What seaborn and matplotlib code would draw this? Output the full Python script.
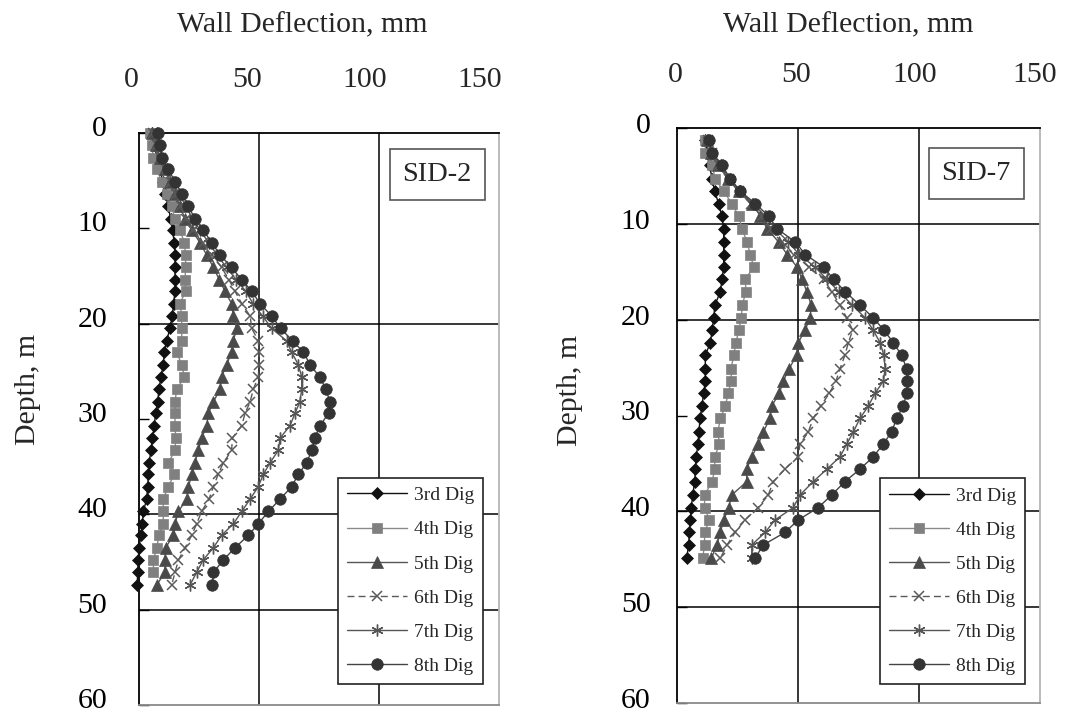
import numpy as np
import pandas as pd
import matplotlib
matplotlib.use("Agg")
import matplotlib.pyplot as plt
import matplotlib.transforms as mtransforms
import seaborn as sns

# ---------------- data ----------------
series_names = ["3rd Dig", "4th Dig", "5th Dig", "6th Dig", "7th Dig", "8th Dig"]
x_ticks = [0, 50, 100, 150]
y_ticks = [0, 10, 20, 30, 40, 50, 60]

depth_sid2 = [0.0, 1.3, 2.6, 3.8, 5.1, 6.4, 7.7, 9.0, 10.2, 11.5, 12.8, 14.1, 15.4, 16.6,
              17.9, 19.2, 20.5, 21.8, 23.0, 24.3, 25.6, 26.9, 28.2, 29.4, 30.7, 32.0, 33.3,
              34.6, 35.8, 37.1, 38.4, 39.7, 41.0, 42.2, 43.5, 44.8, 46.1, 47.4]
sid2_dig3 = [5.3, 6.4, 7.5, 8.7, 9.9, 11.0, 12.2, 13.2, 14.0, 14.7,
             15.0, 15.0, 15.0, 15.0, 14.4, 13.9, 12.9, 11.5, 10.6, 10.1,
             9.2, 8.3, 7.8, 6.9, 6.4, 5.6, 5.0, 4.2, 3.9, 3.6,
             3.2, 1.8, 1.4, 0.8, 0.0, -0.3, -0.5, -0.8]
sid2_dig4 = [4.6, 5.3, 6.0, 7.4, 9.4, 11.5, 13.6, 15.0, 17.1, 18.9,
             19.4, 19.4, 19.2, 19.4, 17.1, 17.8, 17.8, 17.8, 15.7, 17.8,
             18.9, 15.7, 15.0, 15.0, 15.0, 15.3, 15.0, 12.2, 14.7, 12.2,
             10.1, 10.1, 10.1, 8.3, 7.4, 6.0, 6.0, np.nan]
sid2_dig5 = [5.5, 7.0, 8.8, 10.8, 12.8, 15.0, 17.0, 19.2, 22.0, 25.4,
             28.2, 31.0, 33.5, 35.8, 38.6, 39.3, 40.7, 39.3, 38.6, 36.5,
             34.4, 33.7, 31.0, 28.9, 28.2, 26.1, 24.7, 23.3, 22.0, 20.6,
             19.9, 16.4, 15.0, 14.3, 11.1, 10.8, 10.8, 7.4]
sid2_dig6 = [6.0, 7.5, 9.3, 11.2, 13.2, 15.3, 17.4, 19.7, 22.3, 26.5,
             30.5, 34.4, 37.5, 40.0, 42.8, 46.3, 47.0, 49.7, 50.0, 50.0,
             49.7, 47.6, 46.3, 44.2, 42.8, 38.9, 38.6, 35.1, 33.0, 31.0,
             29.2, 26.1, 24.0, 22.0, 19.2, 16.4, 15.0, 13.6]
sid2_dig7 = [7.5, 8.3, 9.3, 11.5, 14.0, 16.8, 19.5, 22.3, 25.5, 29.0,
             32.5, 36.5, 40.5, 44.5, 47.5, 51.5, 55.3, 61.5, 63.6, 66.4,
             67.8, 67.8, 67.0, 65.0, 62.9, 58.8, 58.0, 54.6, 51.8, 49.7,
             46.3, 42.8, 39.3, 34.4, 31.0, 26.7, 24.0, 21.3]
sid2_dig8 = [8.0, 8.8, 9.6, 12.2, 15.0, 17.8, 20.6, 23.3, 26.8, 30.3,
             33.8, 38.6, 42.8, 47.0, 50.4, 55.3, 59.0, 64.0, 68.5, 71.3,
             75.3, 78.0, 79.5, 79.0, 75.4, 73.3, 71.9, 69.9, 66.4, 63.6,
             58.8, 53.9, 49.7, 45.6, 40.0, 35.1, 31.0, 30.6]

depth_sid7 = [1.3, 2.6, 3.9, 5.3, 6.6, 7.9, 9.2, 10.5, 11.9, 13.2,
              14.5, 15.8, 17.1, 18.5, 19.8, 21.1, 22.4, 23.7, 25.1, 26.4,
              27.7, 29.0, 30.3, 31.7, 33.0, 34.3, 35.6, 36.9, 38.3, 39.6,
              40.9, 42.2, 43.5, 44.9]
sid7_dig3 = [11.7, 12.5, 13.5, 14.5, 15.6, 17.2, 18.6, 19.3, 19.3, 19.3,
             19.3, 18.6, 17.9, 15.6, 15.2, 14.5, 13.8, 11.7, 11.7, 11.7,
             11.0, 10.3, 9.6, 9.0, 8.7, 7.9, 7.6, 7.3, 6.5, 5.9,
             5.5, 5.1, 4.8, 4.0]
sid7_dig4 = [11.7, 11.7, 14.5, 15.8, 19.3, 22.7, 25.5, 26.9, 28.9, 30.3,
             31.7, 28.2, 28.5, 26.9, 26.6, 25.5, 24.4, 23.4, 22.4, 22.4,
             21.1, 20.0, 17.9, 16.9, 17.5, 15.6, 15.6, 14.5, 11.4, 11.4,
             13.4, 11.4, 11.4, 10.6]
sid7_dig5 = [12.5, 14.0, 17.0, 21.0, 25.5, 31.0, 34.5, 37.2, 42.0, 45.5,
             49.6, 51.7, 53.7, 55.5, 55.0, 52.9, 50.1, 49.4, 46.4, 43.9,
             42.3, 39.1, 38.4, 35.7, 33.6, 30.9, 28.8, 28.8, 22.6, 21.4,
             19.3, 17.9, 16.5, 14.2]
sid7_dig6 = [13.0, 14.5, 17.5, 21.5, 25.5, 30.5, 35.0, 39.0, 43.5, 48.5,
             54.4, 60.6, 64.0, 67.4, 70.1, 72.6, 70.8, 69.4, 67.4, 65.7,
             62.9, 59.4, 56.3, 54.3, 50.8, 50.1, 44.6, 39.8, 37.7, 33.6,
             28.1, 24.0, 20.7, 17.9]
sid7_dig7 = [13.0, 14.5, 18.0, 22.0, 26.0, 31.5, 36.5, 40.5, 46.0, 50.5,
             57.0, 62.0, 67.0, 72.5, 77.7, 81.1, 83.9, 85.5, 86.0, 85.3,
             81.8, 79.1, 75.6, 72.9, 70.1, 67.4, 61.9, 56.3, 50.8, 48.1,
             40.5, 36.4, 30.9, 30.9]
sid7_dig8 = [13.1, 14.5, 18.6, 22.0, 26.2, 32.4, 37.9, 41.3, 48.9, 53.0,
             60.6, 64.7, 69.6, 75.6, 81.1, 85.5, 89.4, 92.8, 94.9, 94.9,
             94.9, 93.5, 90.8, 88.7, 85.2, 81.1, 75.6, 69.4, 63.9, 58.4,
             50.1, 44.6, 35.7, 32.2]

# ---------------- styles ----------------
sns.set_style("white")
plt.rcParams["font.family"] = ["Liberation Serif", "DejaVu Serif"]

styles = {
    "3rd Dig": dict(marker="D", ms=6.0, color="#111111", lc="#111111", ls="-", mew=0.5),
    "4th Dig": dict(marker="s", ms=7.2, color="#808080", lc="#8a8a8a", ls="-", mew=0.5),
    "5th Dig": dict(marker="^", ms=8.8, color="#4a4a4a", lc="#555555", ls="-", mew=0.5),
    "6th Dig": dict(marker="x", ms=7.5, color="#5a5a5a", lc="#5a5a5a", ls=(0, (5, 3)), mew=1.1),
    "7th Dig": dict(marker=(6, 2, 0), ms=8.5, color="#555555", lc="#555555", ls="-", mew=1.0),
    "8th Dig": dict(marker="o", ms=8.3, color="#333333", lc="#444444", ls="-", mew=0.5),
}

panels = [
    dict(rect=[139 / 1066, 8 / 713, 360 / 1066, 572 / 713], depth=depth_sid2,
         vals=[sid2_dig3, sid2_dig4, sid2_dig5, sid2_dig6, sid2_dig7, sid2_dig8],
         name="SID-2", name_xy=(0.828, 0.927), leg_xy=(0.553, 0.397),
         grid_y=[20, 40, 50], xl_xy=(0.453, 1.189), yl_xy=(-0.308, 0.551),
         xtick_shift=[-8, -12, -14, -19], ytick_shift=7, ypad=23),
    dict(rect=[677 / 1066, 10 / 713, 363 / 1066, 575 / 713], depth=depth_sid7,
         vals=[sid7_dig3, sid7_dig4, sid7_dig5, sid7_dig6, sid7_dig7, sid7_dig8],
         name="SID-7", name_xy=(0.824, 0.921), leg_xy=(0.559, 0.391),
         grid_y=[10, 20, 40, 50], xl_xy=(0.471, 1.179), yl_xy=(-0.295, 0.544),
         xtick_shift=[-2, -2, -4, -5], ytick_shift=5, ypad=19),
]
grid_x = [50, 100]

fig = plt.figure(figsize=(10.66, 7.13), dpi=100)

for p in panels:
    ax = fig.add_axes(p["rect"])
    for gx in grid_x:
        ax.axvline(gx, color="black", lw=1.1, zorder=1)
    for gy in p["grid_y"]:
        ax.axhline(gy, color="black", lw=1.1, zorder=1)

    for name, vals in zip(series_names, p["vals"]):
        st = styles[name]
        df = pd.DataFrame({"x": vals, "depth": p["depth"]}).dropna()
        sns.lineplot(data=df, x="x", y="depth", orient="y", sort=False, estimator=None,
                     ax=ax, color=st["lc"], lw=1.0, linestyle=st["ls"],
                     marker=st["marker"], markersize=st["ms"],
                     markerfacecolor=st["color"], markeredgecolor=st["color"],
                     markeredgewidth=st["mew"], label=name, clip_on=False, zorder=3)

    ax.set_xlim(0, 150)
    ax.set_ylim(60, 0)
    ax.set_xticks(x_ticks)
    ax.set_yticks(y_ticks)
    ax.xaxis.tick_top()
    ax.xaxis.set_label_position("top")
    ax.tick_params(axis="x", which="both", length=0, pad=29, labelsize=21.5,
                   top=True, bottom=False)
    ax.tick_params(axis="y", which="both", direction="in", length=7, width=1.0,
                   pad=p["ypad"], labelsize=21.5, left=True, colors="black")
    ax.set_xlabel("Wall Deflection, mm", fontsize=21.5)
    ax.set_ylabel("Depth, m", fontsize=21.5)
    ax.xaxis.set_label_coords(*p["xl_xy"])
    ax.xaxis.label.set_verticalalignment("center")
    ax.yaxis.set_label_coords(*p["yl_xy"])
    ax.yaxis.label.set_verticalalignment("center")

    for lab, dx in zip(ax.get_xticklabels(), p["xtick_shift"]):
        off = mtransforms.ScaledTranslation(dx / 100, 0, fig.dpi_scale_trans)
        lab.set_transform(lab.get_transform() + off)
    for lab in ax.get_yticklabels():
        off = mtransforms.ScaledTranslation(0, p["ytick_shift"] / 100, fig.dpi_scale_trans)
        lab.set_transform(lab.get_transform() + off)

    for side in ["top", "left"]:
        ax.spines[side].set_color("black")
        ax.spines[side].set_linewidth(1.3)
    ax.spines["right"].set_color("#b5b5b5")
    ax.spines["right"].set_linewidth(1.3)
    ax.spines["bottom"].set_color("#8a8a8a")
    ax.spines["bottom"].set_linewidth(1.3)

    ax.text(p["name_xy"][0], p["name_xy"][1], p["name"], transform=ax.transAxes,
            ha="center", va="center", fontsize=20.5, zorder=5,
            bbox=dict(boxstyle="square,pad=0.45", fc="white", ec="#555555", lw=1.2))

    handles, labels = ax.get_legend_handles_labels()
    leg = ax.legend(handles, labels, loc="upper left", bbox_to_anchor=p["leg_xy"],
                    bbox_transform=ax.transAxes, borderaxespad=0, fontsize=14,
                    handlelength=3.1, handletextpad=0.35, labelspacing=0.85,
                    borderpad=0.45, frameon=True, fancybox=False, framealpha=1,
                    edgecolor="#222222", numpoints=1)
    leg.get_frame().set_linewidth(1.2)
    leg.set_zorder(6)

fig.savefig("out.png", dpi=100)
